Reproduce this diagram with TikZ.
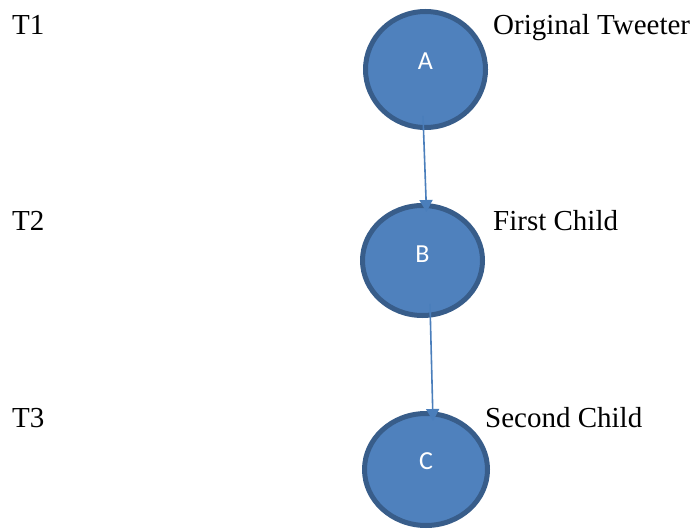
\documentclass[tikz,border=0pt]{standalone}
\usepackage{fontspec}
\setmainfont{Liberation Serif}
\newfontfamily\shapefont{Carlito}
\usetikzlibrary{shapes.geometric,arrows.meta}
\definecolor{bubblefill}{HTML}{4F81BD}
\definecolor{bubbleline}{HTML}{385D8A}
\definecolor{linkline}{HTML}{4A7EBB}
\begin{document}
\begin{tikzpicture}[x=1pt,y=-1pt,
  bubble/.style={ellipse,draw=bubbleline,fill=bubblefill,line width=5pt,inner sep=0pt},
  tag/.style={anchor=base west,inner sep=0pt,font=\fontsize{29}{34}\selectfont},
  letter/.style={text=white,font=\shapefont\fontsize{26}{30}\selectfont,inner sep=0pt},
  link/.style={draw=linkline,line width=1.6pt,-{Triangle[width=13pt,length=12pt]}}]
\useasboundingbox (0,0) rectangle (696,529);
% retweet cascade
\node[bubble,minimum width=120pt,minimum height=116pt] (A) at (425.5,69.5) {};
\node[bubble,minimum width=120pt,minimum height=110pt] (B) at (422.5,260.5) {};
\node[bubble,minimum width=123pt,minimum height=112pt] (C) at (426,469.5) {};
\node[letter] (a) at (425.5,61) {A};
\node[letter] (b) at (422.5,254) {B};
\node[letter] (c) at (426,461.5) {C};
\draw[link] ([xshift=-2.5pt,yshift=14pt]A.south) -- ([xshift=4pt,yshift=-9pt]B.north);
\draw[link] ([xshift=7.5pt,yshift=14pt]B.south) -- ([xshift=7pt,yshift=-10pt]C.north);
% time steps
\node[tag] (t1) at (12,35) {T1};
\node[tag] (t2) at (12,231) {T2};
\node[tag] (t3) at (12,427) {T3};
% roles
\node[tag] (r1) at (493,35) {Original Tweeter};
\node[tag] (r2) at (493,231) {First Child};
\node[tag] (r3) at (485,427) {Second Child};
\end{tikzpicture}
\end{document}
